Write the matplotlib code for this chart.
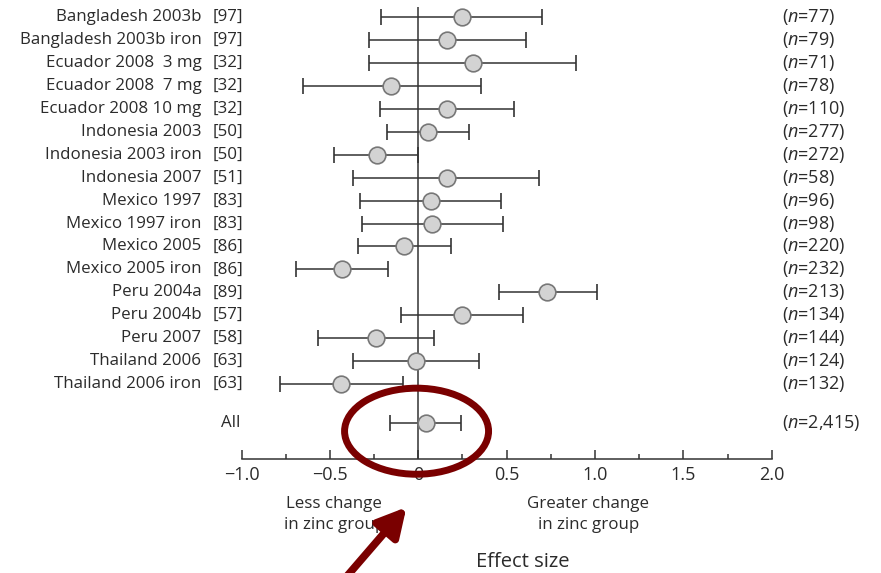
import matplotlib
matplotlib.use('Agg')
import matplotlib.pyplot as plt
from matplotlib.patches import Ellipse

# ── data ──────────────────────────────────────────────────────────
studies = ['Bangladesh 2003b', 'Bangladesh 2003b iron', 'Ecuador 2008  3 mg',
           'Ecuador 2008  7 mg', 'Ecuador 2008 10 mg', 'Indonesia 2003',
           'Indonesia 2003 iron', 'Indonesia 2007', 'Mexico 1997',
           'Mexico 1997 iron', 'Mexico 2005', 'Mexico 2005 iron',
           'Peru 2004a', 'Peru 2004b', 'Peru 2007', 'Thailand 2006',
           'Thailand 2006 iron']
refs = ['[97]', '[97]', '[32]', '[32]', '[32]', '[50]', '[50]', '[51]', '[83]',
        '[83]', '[86]', '[86]', '[89]', '[57]', '[58]', '[63]', '[63]']
n_sizes = ['77', '79', '71', '78', '110', '277', '272', '58', '96', '98',
           '220', '232', '213', '134', '144', '124', '132']
effect = [0.245, 0.16, 0.31, -0.155, 0.16, 0.055, -0.235, 0.16, 0.07, 0.08,
          -0.08, -0.43, 0.73, 0.245, -0.24, -0.013, -0.44]
lower = [-0.21, -0.28, -0.28, -0.65, -0.215, -0.18, -0.48, -0.37, -0.33, -0.32,
         -0.34, -0.69, 0.455, -0.096, -0.57, -0.37, -0.785]
upper = [0.70, 0.61, 0.89, 0.355, 0.54, 0.285, 0.0, 0.685, 0.47, 0.48,
         0.185, -0.17, 1.01, 0.59, 0.09, 0.345, -0.087]

all_label = 'All'
all_n = '2,415'
all_effect = 0.044
all_lower = -0.16
all_upper = 0.242

xticks = [-1.0, -0.5, 0, 0.5, 1.0, 1.5, 2.0]
xtick_labels = ['\u22121.0', '\u22120.5', '0', '0.5', '1.0', '1.5', '2.0']

# ── style ─────────────────────────────────────────────────────────
FONT = 'Open Sans'
TXT = '#2b2b2b'
LINE = '#333333'
RED = '#7a0000'
FS = 12.2
plt.rcParams.update({'font.family': FONT, 'font.size': FS,
                     'mathtext.fontset': 'custom',
                     'mathtext.it': 'Open Sans:italic',
                     'mathtext.rm': 'Open Sans'})

fig = plt.figure(figsize=(8.81, 5.73), dpi=100)
ax = fig.add_axes([0.2743, 0.199, 0.6016, 0.789])

ys = list(range(len(studies)))
y_all = len(studies) - 1 + 1.7

err_kw = dict(fmt='o', color=LINE, ecolor=LINE, elinewidth=1.1, capsize=6,
              capthick=1.1, markersize=12, markerfacecolor='#d3d3d3',
              markeredgecolor='#777777', markeredgewidth=1.2, zorder=3)

for y, e, lo, hi in zip(ys, effect, lower, upper):
    ax.errorbar(e, y, xerr=[[e - lo], [hi - e]], **err_kw)
ax.errorbar(all_effect, y_all, xerr=[[all_effect - all_lower], [all_upper - all_effect]], **err_kw)

ax.axvline(0, color=LINE, lw=1.1, zorder=2)

# labels on the left and sample sizes on the right
for y, name, ref, n in zip(ys, studies, refs, n_sizes):
    ax.text(-1.228, y, name, ha='right', va='center', color=TXT, fontsize=FS, clip_on=False)
    ax.text(-1.163, y, ref, ha='left', va='center', color=TXT, fontsize=FS, clip_on=False)
    ax.text(2.06, y, r'($\it{n}$=' + n + ')', ha='left', va='center', color=TXT,
            fontsize=13, clip_on=False)
ax.text(-1.005, y_all, all_label, ha='right', va='center', color=TXT, fontsize=FS, clip_on=False)
ax.text(2.06, y_all, r'($\it{n}$=' + all_n + ')', ha='left', va='center', color=TXT,
        fontsize=13, clip_on=False)

ax.set_xlim(-1.0, 2.0)
ax.set_ylim(19.26, -0.44)
ax.set_yticks([])
for s in ['top', 'right', 'left']:
    ax.spines[s].set_visible(False)
ax.spines['bottom'].set_color(LINE)
ax.spines['bottom'].set_linewidth(1.1)
ax.set_xticks(xticks)
ax.set_xticklabels(xtick_labels, color=TXT, fontsize=13)
ax.set_xticks([-0.75, -0.25, 0.25, 0.75, 1.25, 1.75], minor=True)
ax.tick_params(axis='x', which='major', direction='in', length=6.5, width=1.1,
               color=LINE, pad=5)
ax.tick_params(axis='x', which='minor', direction='in', length=3.6, width=1.1, color=LINE)

# annotations below the axis
ax.text(-0.475, 21.68, 'Less change\nin zinc group', ha='center', va='center',
        color=TXT, fontsize=FS, linespacing=1.35, clip_on=False)
ax.text(0.962, 21.68, 'Greater change\nin zinc group', ha='center', va='center',
        color=TXT, fontsize=FS, linespacing=1.35, clip_on=False)
ax.text(0.59, 23.75, 'Effect size', ha='center', va='center', color=TXT,
        fontsize=14.5, clip_on=False)

# red highlight
ell = Ellipse((-0.01, 18.05), width=0.815, height=3.75, fill=False,
              edgecolor=RED, linewidth=5, zorder=5, clip_on=False)
ax.add_patch(ell)
ax.annotate('', xy=(-0.057, 21.27), xytext=(-0.43, 24.6),
            arrowprops=dict(arrowstyle='-|>,head_length=1.4,head_width=0.75',
                            color=RED, lw=5.5),
            annotation_clip=False, zorder=5)

fig.savefig('out.png', dpi=100)
